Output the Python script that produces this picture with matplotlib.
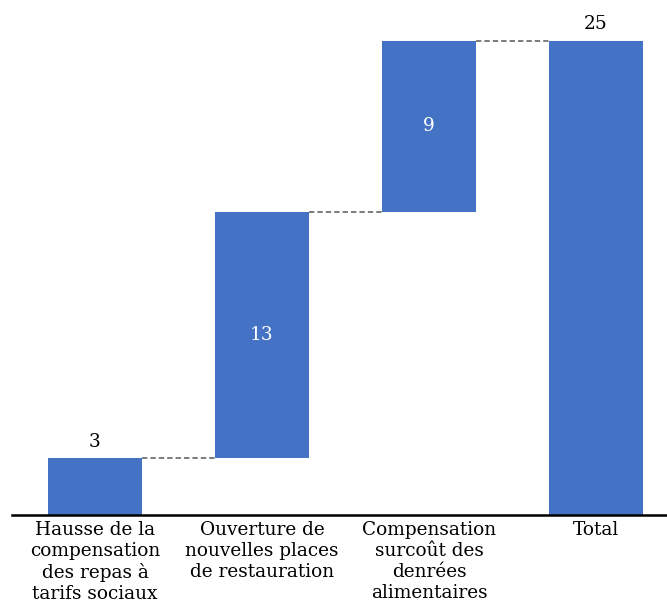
import matplotlib
matplotlib.use("Agg")
import matplotlib.pyplot as plt
import numpy as np

categories = ["Hausse de la\ncompensation\ndes repas à\ntarifs sociaux",
              "Ouverture de\nnouvelles places\nde restauration",
              "Compensation\nsurcoût des\ndenrées\nalimentaires",
              "Total"]
values = [3, 13, 9]
total = sum(values)

plt.rcParams['font.family'] = ['DejaVu Serif']

W, H = 667, 608
fig = plt.figure(figsize=(W/100, H/100), dpi=100)
ymax = 27.0
ppu = (515 - 41) / 25.0
ax_h = ymax * ppu
left_px, right_px = 11.5, 679.5
ax = fig.add_axes([left_px/W, (H-515)/H, (right_px-left_px)/W, ax_h/H])

color = "#4472C4"
bw = 0.557
bottoms = np.concatenate([[0], np.cumsum(values)[:-1]])
x = np.arange(len(categories))
heights = list(values) + [total]
bots = list(bottoms) + [0]
ax.bar(x, heights, bottom=bots, width=bw, color=color, zorder=2)

# connectors
tops = [b + h for b, h in zip(bots, heights)]
for i in range(len(categories) - 1):
    ax.plot([x[i] + bw/2, x[i+1] - bw/2], [tops[i], tops[i]],
            ls=(0, (3.5, 2)), color="#595959", lw=1.1, zorder=1)

# labels
fs = 13.3
ax.text(x[0], tops[0] + 0.4, str(values[0]), ha='center', va='bottom', fontsize=fs, color='black')
ax.text(x[1], bots[1] + values[1]/2, str(values[1]), ha='center', va='center', fontsize=fs, color='white')
ax.text(x[2], bots[2] + values[2]/2, str(values[2]), ha='center', va='center', fontsize=fs, color='white')
ax.text(x[3], total + 0.4, str(total), ha='center', va='bottom', fontsize=fs, color='black')

ax.set_xlim(-0.5, 3.5)
ax.set_ylim(0, ymax)
ax.set_xticks(x)
ax.set_xticklabels(categories, fontsize=fs, linespacing=1.23)
ax.tick_params(axis='x', length=0, pad=4)
ax.set_yticks([])
for s in ['top', 'right', 'left']:
    ax.spines[s].set_visible(False)
ax.spines['bottom'].set_linewidth(1.8)
ax.spines['bottom'].set_color('black')

fig.savefig("out.png", dpi=100)
